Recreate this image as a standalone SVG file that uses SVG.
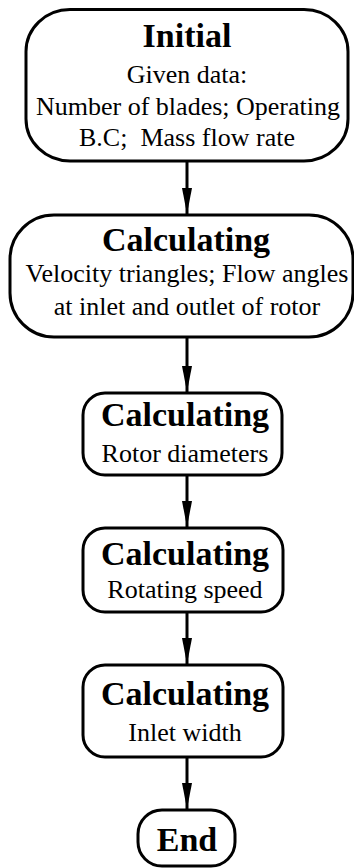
<svg xmlns="http://www.w3.org/2000/svg" width="354" height="868" viewBox="0 0 354 868">
<defs>
<marker id="arrow" viewBox="0 0 26 10" refX="26" refY="5" markerWidth="26" markerHeight="10" markerUnits="userSpaceOnUse" orient="auto">
<path d="M0,0 L26,5 L0,10 z" fill="#000"/>
</marker>
</defs>
<style>
.box{fill:#fff;stroke:#000;stroke-width:3}
.t{font-family:"Liberation Serif","Times New Roman",serif;font-weight:bold;font-size:34px;text-anchor:middle;fill:#000}
.s{font-family:"Liberation Serif","Times New Roman",serif;font-size:26px;text-anchor:middle;fill:#000;white-space:pre}
.edge{stroke:#000;stroke-width:3;fill:none;marker-end:url(#arrow)}
</style>
<g id="connectors">
<line class="edge" x1="187" y1="161" x2="187" y2="214"/>
<line class="edge" x1="187" y1="337" x2="187" y2="392"/>
<line class="edge" x1="187" y1="475" x2="187" y2="527"/>
<line class="edge" x1="187" y1="612" x2="187" y2="664"/>
<line class="edge" x1="187" y1="757" x2="187" y2="809"/>
</g>
<g id="initial">
<rect class="box" x="26" y="9.5" width="322" height="151.5" rx="44" ry="42"/>
<text class="t" x="187" y="47">Initial</text>
<text class="s" x="187" y="83">Given data:</text>
<text class="s" x="188" y="115">Number of blades; Operating</text>
<text class="s" x="187" y="146" xml:space="preserve">B.C;  Mass flow rate</text>
</g>
<g id="calc1">
<rect class="box" x="10" y="215" width="343" height="122" rx="44" ry="44"/>
<text class="t" x="186" y="251">Calculating</text>
<text class="s" x="187" y="282">Velocity triangles; Flow angles</text>
<text class="s" x="187" y="315">at inlet and outlet of rotor</text>
</g>
<g id="calc2">
<rect class="box" x="83" y="393" width="199" height="82" rx="22" ry="22"/>
<text class="t" x="185" y="426">Calculating</text>
<text class="s" x="185" y="462">Rotor diameters</text>
</g>
<g id="calc3">
<rect class="box" x="83" y="528" width="200" height="84" rx="22" ry="22"/>
<text class="t" x="185" y="565">Calculating</text>
<text class="s" x="185" y="598">Rotating speed</text>
</g>
<g id="calc4">
<rect class="box" x="83" y="665" width="200" height="92" rx="22" ry="22"/>
<text class="t" x="185" y="705">Calculating</text>
<text class="s" x="185" y="741">Inlet width</text>
</g>
<g id="end">
<rect class="box" x="138" y="810" width="97" height="56" rx="24" ry="24"/>
<text class="t" x="187" y="851">End</text>
</g>
</svg>
